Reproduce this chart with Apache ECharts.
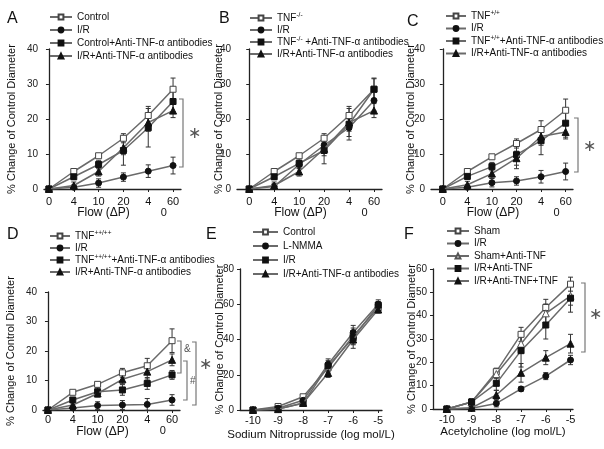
<!DOCTYPE html>
<html>
<head>
<meta charset="utf-8">
<script src="https://cdn.jsdelivr.net/npm/echarts@6/dist/echarts.min.js"></script>
<style>
  html, body { margin: 0; padding: 0; background: #fff; }
  #main { width: 604px; height: 449px; }
</style>
</head>
<body>
<div id="main"></div>
<script>
// ---- categories and ticks ----
const flowCats = ['0', '4', '10', '20', '40', '60'];
const logDoses = [-10, -9, -8, -7, -6, -5];

// ---- panel A ----
const aNames = ['Control', 'I/R', 'Control+Anti-TNF-α antibodies', 'I/R+Anti-TNF-α antibodies'];
const aControl = [0, 5, 9.5, 14.5, 21, 28.5];
const aControlErr = [0, 0.5, 0.6, 1.3, 2.6, 3.2];
const aIR = [0, 0.5, 1.7, 3.4, 5.1, 6.7];
const aIRErr = [0, 0.6, 1.2, 1.2, 1.8, 2.4];
const aControlAnti = [0, 3.5, 7, 11, 17.5, 25];
const aControlAntiErr = [0, 0.8, 1.2, 4.2, 5.5, 3];
const aIRAnti = [0, 1, 5, 11.8, 19, 22.4];
const aIRAntiErr = [0, 1, 1.3, 2, 2.5, 2];

// ---- panel B ----
const bNames = ['TNF{s|-/-}', 'I/R', 'TNF{s|-/-} +Anti-TNF-α antibodies', 'I/R+Anti-TNF-α antibodies'];
const bKO = [0, 5, 9.5, 14.5, 21, 28.5];
const bKOErr = [0, 0.5, 0.6, 1.3, 2.6, 3.2];
const bIR = [0, 0.7, 7, 12.5, 17.5, 25.3];
const bIRErr = [0, 0.8, 1.2, 1.5, 2.5, 3];
const bKOAnti = [0, 3.5, 7.3, 11, 18.5, 28.5];
const bKOAntiErr = [0, 0.8, 1.3, 3.8, 4.5, 3];
const bIRAnti = [0, 1, 5, 11.5, 19, 22.4];
const bIRAntiErr = [0, 1, 1.3, 2, 2.5, 2];

// ---- panel C ----
const cNames = ['TNF{s|+/+}', 'I/R', 'TNF{s|+/+}+Anti-TNF-α antibodies', 'I/R+Anti-TNF-α antibodies'];
const cWT = [0, 5, 9.2, 13, 17, 22.5];
const cWTErr = [0, 0.5, 0.6, 1.3, 2.5, 3.2];
const cIR = [0, 0.5, 1.8, 2.3, 3.5, 5];
const cIRErr = [0, 0.6, 1.2, 1.2, 1.8, 2.4];
const cWTAnti = [0, 3.6, 6.4, 9.8, 13.8, 18.8];
const cWTAntiErr = [0, 0.8, 1.2, 4, 4, 4];
const cIRAnti = [0, 1.2, 4.4, 8.8, 15, 16.3];
const cIRAntiErr = [0, 1, 1.3, 2, 2.5, 2];

// ---- panel D ----
const dNames = ['TNF{s|++/++}', 'I/R', 'TNF{s|++/++}+Anti-TNF-α antibodies', 'I/R+Anti-TNF-α antibodies'];
const dTG = [0, 6, 8.7, 12.6, 15, 23.5];
const dTGErr = [0, 0.5, 0.8, 1.5, 2.5, 4];
const dIR = [0, 0.7, 1.5, 1.7, 1.9, 3.4];
const dIRErr = [0, 0.5, 1.3, 1.5, 2, 1.8];
const dTGAnti = [0, 3.4, 6.2, 6.8, 9, 11.9];
const dTGAntiErr = [0, 0.8, 1.5, 1.8, 2, 1.5];
const dIRAnti = [0, 1.7, 5.6, 10.4, 13, 17];
const dIRAntiErr = [0, 0.8, 1.2, 1.5, 2.5, 2];

// ---- panel E ----
const eNames = ['Control', 'L-NMMA', 'I/R', 'I/R+Anti-TNF-α antibodies'];
const eControl = [0, 2, 7.5, 24, 42, 58];
const eControlErr = [0, 0.8, 1, 3, 4.5, 2.5];
const eLNMMA = [0, 1, 5.5, 26, 44, 60];
const eLNMMAErr = [0, 0.6, 1, 3, 4, 2.5];
const eIR = [0, 0.6, 3.8, 25, 41, 59.5];
const eIRErr = [0, 0.6, 1, 3, 4, 2];
const eIRAnti = [0, 0.5, 4, 21, 40, 57];
const eIRAntiErr = [0, 0.6, 1, 2.5, 5, 2];

// ---- panel F ----
const fNames = ['Sham', 'I/R', 'Sham+Anti-TNF', 'I/R+Anti-TNF', 'I/R+Anti-TNF+TNF'];
const fSham = [0, 3, 16, 32, 43.5, 53.5];
const fShamErr = [0, 1.5, 1.5, 3, 3.5, 3];
const fIR = [0, 0.3, 2.4, 8.6, 14.1, 21];
const fIRErr = [0, 0.5, 1.5, 1, 1.5, 2];
const fShamAnti = [0, 3, 15, 28, 41, 48.5];
const fShamAntiErr = [0, 1.5, 2, 4, 4, 4];
const fIRAnti = [0, 3, 11, 25, 36, 47.5];
const fIRAntiErr = [0, 1.5, 3, 7, 6, 6];
const fIRAntiTNF = [0, 0.5, 6, 15.5, 22, 28];
const fIRAntiTNFErr = [0, 0.5, 2, 4, 3, 4];

// ---- marker styles ----
const openSq = { symbol: 'rect', size: 6, fill: '#fff', border: '#444' };
const dotC = { symbol: 'circle', size: 6, fill: '#111', border: '#111' };
const fillSq = { symbol: 'rect', size: 6, fill: '#111', border: '#111' };
const fillTri = { symbol: 'triangle', size: 7, fill: '#111', border: '#111' };
const openTri = { symbol: 'triangle', size: 7, fill: '#fff', border: '#555' };

const flowIdx = flowCats.map((c, i) => i);

const panels = [
  { key: 'A', xs: flowIdx, names: aNames, vals: [aControl, aIR, aControlAnti, aIRAnti],
    errs: [aControlErr, aIRErr, aControlAntiErr, aIRAntiErr], marks: [openSq, dotC, fillSq, fillTri] },
  { key: 'B', xs: flowIdx, names: bNames, vals: [bKO, bIR, bKOAnti, bIRAnti],
    errs: [bKOErr, bIRErr, bKOAntiErr, bIRAntiErr], marks: [openSq, dotC, fillSq, fillTri] },
  { key: 'C', xs: flowIdx, names: cNames, vals: [cWT, cIR, cWTAnti, cIRAnti],
    errs: [cWTErr, cIRErr, cWTAntiErr, cIRAntiErr], marks: [openSq, dotC, fillSq, fillTri] },
  { key: 'D', xs: flowIdx, names: dNames, vals: [dTG, dIR, dTGAnti, dIRAnti],
    errs: [dTGErr, dIRErr, dTGAntiErr, dIRAntiErr], marks: [openSq, dotC, fillSq, fillTri] },
  { key: 'E', xs: logDoses, names: eNames, vals: [eControl, eLNMMA, eIR, eIRAnti],
    errs: [eControlErr, eLNMMAErr, eIRErr, eIRAntiErr], marks: [openSq, dotC, fillSq, fillTri] },
  { key: 'F', xs: logDoses, names: fNames, vals: [fSham, fIR, fShamAnti, fIRAnti, fIRAntiTNF],
    errs: [fShamErr, fIRErr, fShamAntiErr, fIRAntiErr, fIRAntiTNFErr], marks: [openSq, dotC, openTri, fillSq, fillTri] }
];

// layout per panel: legend = [left, top, itemGap, itemWidth]
const layout = [
  { grid: [44, 49, 137, 140], x: [-0.2, 5.32], y: [0, 40, 10], yGap: 27, lblM: 7, nGap: 18, xName: 'Flow (ΔP)',
    legend: [44, 6, 1, 22] },
  { grid: [237, 49, 145, 140], x: [-0.49, 5.32], y: [0, 40, 10], yGap: 13, lblM: 7, nGap: 18, xName: 'Flow (ΔP)',
    legend: [244, 7, 0, 22] },
  { grid: [431, 49, 142, 140], x: [-0.48, 5.3], y: [0, 40, 10], yGap: 15, lblM: 7, nGap: 18, xName: 'Flow (ΔP)',
    legend: [440, 5, 0.5, 20] },
  { grid: [43, 292, 137, 118], x: [-0.2, 5.32], y: [0, 40, 10], yGap: 27, lblM: 4, nGap: 16, xName: 'Flow (ΔP)',
    legend: [44, 225, 0, 20] },
  { grid: [240, 269, 142, 141], x: [-10.52, -4.85], y: [0, 80, 20], yGap: 15, lblM: 5, nGap: 19,
    xName: 'Sodium Nitroprusside (log mol/L)', legend: [247, 221, 2, 25] },
  { grid: [433, 269, 140, 140], x: [-10.56, -4.9], y: [0, 60, 10], yGap: 16, lblM: 5, nGap: 17,
    xName: 'Acetylcholine (log mol/L)', legend: [441, 220, 0.5, 22] }
];

const FONT = 'Liberation Sans';

function errorBar(params, api) {
  const x = api.value(0);
  const top = api.coord([x, api.value(2)]);
  const bot = api.coord([x, api.value(1)]);
  const w = 2.5;
  const st = { stroke: '#333', lineWidth: 1 };
  return {
    type: 'group',
    children: [
      { type: 'line', shape: { x1: top[0], y1: top[1], x2: bot[0], y2: bot[1] }, style: st },
      { type: 'line', shape: { x1: top[0] - w, y1: top[1], x2: top[0] + w, y2: top[1] }, style: st },
      { type: 'line', shape: { x1: bot[0] - w, y1: bot[1], x2: bot[0] + w, y2: bot[1] }, style: st }
    ]
  };
}

const grids = [], xAxes = [], yAxes = [], series = [], legends = [];

panels.forEach((p, gi) => {
  const L = layout[gi];
  grids.push({ left: L.grid[0], top: L.grid[1], width: L.grid[2], height: L.grid[3] });
  const isFlow = p.xs === flowIdx;
  xAxes.push({
    type: 'value', gridIndex: gi, min: L.x[0], max: L.x[1],
    name: L.xName, nameLocation: 'middle', nameGap: L.nGap, nameMoveOverlap: false,
    nameTextStyle: { fontFamily: FONT, fontSize: isFlow ? 12 : 11.5, color: '#111',
                     padding: isFlow ? [0, 18, 0, 0] : 0 },
    axisLine: { lineStyle: { color: '#222', width: 1.3 } },
    axisTick: { show: true, length: 3, customValues: p.xs, lineStyle: { color: '#222' } },
    splitLine: { show: false },
    axisLabel: {
      customValues: p.xs, margin: L.lblM, fontFamily: FONT, fontSize: 11, color: '#111',
      hideOverlap: false, showMaxLabel: true, showMinLabel: true,
      formatter: v => {
        if (!isFlow) return String(v);
        const c = flowCats[Math.round(v)];
        return c === '40' ? '{a|4}\n{b|0}' : c;
      },
      rich: { a: { fontSize: 11, fontFamily: FONT, color: '#111' },
              b: { fontSize: 11, fontFamily: FONT, color: '#111', padding: [0, 0, 0, 31] } }
    }
  });
  yAxes.push({
    type: 'value', gridIndex: gi, min: L.y[0], max: L.y[1], interval: L.y[2],
    name: '% Change of Control Diameter', nameLocation: 'middle', nameGap: L.yGap, nameMoveOverlap: false,
    nameTextStyle: { fontFamily: FONT, fontSize: 11, color: '#111' },
    axisLine: { show: true, lineStyle: { color: '#222', width: 1.3 } },
    axisTick: { show: true, length: 3, lineStyle: { color: '#222' } },
    splitLine: { show: false },
    axisLabel: { margin: 6, fontFamily: FONT, fontSize: 10, color: '#222' }
  });
  const legendData = [];
  const bars = [];
  p.vals.forEach((vals, si) => {
    const m = p.marks[si];
    const nm = p.key + '@' + p.names[si];
    legendData.push(nm);
    series.push({
      type: 'line', name: nm, xAxisIndex: gi, yAxisIndex: gi,
      data: vals.map((v, i) => [p.xs[i], v]),
      symbol: m.symbol, symbolSize: m.size, showSymbol: true,
      lineStyle: { color: '#6a6a6a', width: 1.5 },
      itemStyle: { color: m.fill, borderColor: m.border, borderWidth: 1 },
      z: 3 + si, animation: false
    });
    p.errs[si].forEach((e, i) => {
      if (e > 0) bars.push([p.xs[i], vals[i] - e, vals[i] + e]);
    });
  });
  series.push({
    type: 'custom', name: 'err' + p.key, xAxisIndex: gi, yAxisIndex: gi,
    renderItem: errorBar, data: bars, encode: { x: 0, y: [1, 2] }, z: 2, animation: false
  });
  legends.push({
    orient: 'vertical', left: L.legend[0], top: L.legend[1], itemGap: L.legend[2],
    itemWidth: L.legend[3], itemHeight: 6, data: legendData, selectedMode: false,
    formatter: n => n.split('@')[1],
    textStyle: {
      fontFamily: FONT, fontSize: 10, color: '#111', lineHeight: 12,
      rich: { s: { fontSize: 6.5, fontFamily: FONT, color: '#111', verticalAlign: 'top', lineHeight: 7 } }
    }
  });
});

// panel letters, significance brackets
const letters = [['A', 7, 11], ['B', 219, 11], ['C', 407, 14], ['D', 7, 227], ['E', 206, 227], ['F', 404, 227]];
const brackets = [[183, 99, 167], [578, 118, 172], [181, 341, 373], [187, 361, 400], [196, 342, 405], [585, 283, 352]];
const marks = [['∗', 188, 126], ['∗', 583, 139], ['&', 184, 344], ['#', 190, 376], ['∗', 199, 357], ['∗', 589, 307]];

const graphic = [];
letters.forEach(l => graphic.push({ type: 'text', left: l[1], top: l[2],
  style: { text: l[0], font: '16px ' + FONT, fill: '#111' } }));
brackets.forEach(b => graphic.push({ type: 'polyline',
  shape: { points: [[b[0] - 4, b[1]], [b[0], b[1]], [b[0], b[2]], [b[0] - 4, b[2]]] },
  style: { stroke: '#777', lineWidth: 1.2, fill: null } }));
marks.forEach(s => graphic.push({ type: 'text', left: s[1], top: s[2],
  style: { text: s[0], font: (s[0] === '∗' ? '16px DejaVu Sans' : '10px ' + FONT), fill: '#555' } }));

const chart = echarts.init(document.getElementById('main'));
chart.setOption({
  animation: false,
  backgroundColor: '#fff',
  grid: grids,
  xAxis: xAxes,
  yAxis: yAxes,
  legend: legends,
  series: series,
  graphic: graphic
});
</script>
</body>
</html>
